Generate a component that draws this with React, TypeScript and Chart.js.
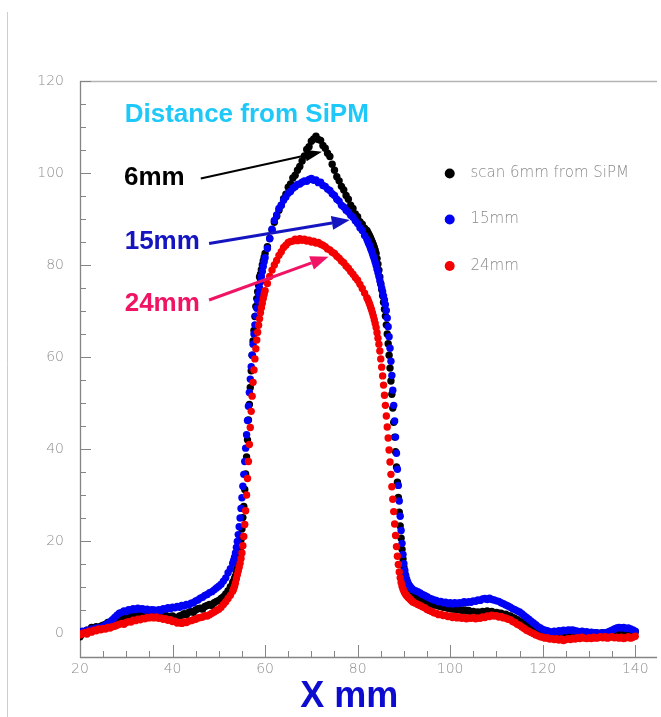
import React, { useEffect, useRef } from "react";
import { Chart, registerables } from "chart.js";

Chart.register(...registerables);

// x sampling of the scan: each segment starts at SEG_START[i] and advances by SEG_STEP[i] (mm)
const SEG_START = [20, 53.2, 60.5, 82.2, 92.5];
const SEG_STEP = [0.5, 0.2, 0.5, 0.2, 0.5];

const X_TICKS = [20, 40, 60, 80, 100, 120, 140];
const Y_TICKS = [0, 20, 40, 60, 80, 100, 120];

const SERIES_LABELS = ["scan 6mm from SiPM", "15mm", "24mm"];

// ---- 6 mm from SiPM (black)
const BLACK_A = [-0.8, -0.2, 0.3, 0.6, 0.4, 1.2, 1.0, 1.4, 1.1, 1.5, 1.7, 1.9, 2.3, 2.1, 2.6, 2.9, 2.7, 3.1, 3.3, 3.0, 3.4, 3.7, 3.4, 3.8, 3.9, 3.6, 3.9, 4.2, 3.9, 4.1, 4.3, 3.9, 4.1, 4.0, 3.8, 4.1, 3.7, 3.9, 3.6, 3.3, 3.7, 3.4, 3.3, 3.7, 3.9, 4.2, 4.0, 4.5, 4.7, 4.5, 5.0, 5.3, 5.4, 5.2, 5.8, 6.0, 6.2, 6.0, 6.6, 6.9, 7.1, 7.5, 7.9, 8.5, 9.2, 10.1, 11.0];
const BLACK_B = [11.3, 11.9, 12.4, 13.2, 14.1, 15.3, 16.6, 18.2, 20.3, 22.6, 25.1, 27.5, 31.2, 34.6, 38.3, 42.0, 46.3, 49.7, 53.4, 57.0, 60.4, 63.5, 65.8, 68.8, 71.0, 72.7, 74.2, 75.6, 77.4, 78.0, 79.0, 80.0, 80.9, 81.7, 82.5];
const BLACK_C = [84.0, 85.8, 87.6, 89.3, 90.6, 91.9, 93.0, 94.4, 95.4, 96.9, 97.6, 98.9, 99.5, 100.6, 101.4, 102.6, 103.7, 105.1, 105.7, 106.9, 107.4, 108.0, 107.3, 107.1, 106.0, 105.4, 104.3, 103.6, 101.9, 100.6, 99.2, 98.3, 97.1, 96.3, 95.1, 94.3, 93.0, 92.3, 91.1, 90.5, 89.4, 88.9, 88.0, 87.5];
const BLACK_D = [87.1, 86.7, 86.3, 85.9, 85.4, 84.9, 84.4, 83.9, 83.2, 82.5, 81.4, 80.2, 78.9, 77.4, 76.0, 74.7, 73.3, 71.9, 70.4, 68.9, 67.0, 65.0, 62.9, 60.4, 57.6, 54.8, 51.9, 48.9, 45.8, 42.6, 39.4, 36.1, 32.8, 29.5, 26.3, 23.3, 20.6, 18.2, 16.1, 14.3, 12.9, 11.8, 10.9, 10.2, 9.7, 9.3, 8.9, 8.6, 8.4, 8.2];
const BLACK_E = [7.9, 7.5, 7.4, 7.0, 6.9, 6.6, 6.4, 6.3, 6.1, 6.1, 5.9, 5.8, 5.6, 5.6, 5.4, 5.4, 5.2, 5.3, 5.0, 5.1, 4.9, 5.0, 4.8, 4.9, 4.6, 4.7, 4.5, 4.6, 4.4, 4.7, 4.6, 4.8, 4.6, 4.7, 4.4, 4.5, 4.3, 4.3, 4.0, 4.1, 3.8, 3.7, 3.4, 3.2, 2.9, 2.6, 2.3, 2.0, 1.7, 1.4, 1.1, 0.9, 0.6, 0.4, 0.1, 0.0, -0.2, -0.1, -0.4, -0.3, -0.5, -0.4, -0.6, -0.5, -0.3, -0.4, -0.2, -0.3, -0.1, -0.3, -0.2, -0.2, 0.0, -0.2, -0.1, -0.2, 0.0, -0.1, 0.1, -0.1, 0.0, 0.1, 0.0, 0.1, 0.2, 0.1, 0.3, 0.2, 0.4, 0.3, 0.5, 0.4, 0.3, 0.5, 0.4, 0.3];

// ---- 15 mm (blue)
const BLUE_A = [0.1, 0.4, 0.2, 0.6, 0.5, 0.9, 0.8, 1.1, 1.0, 1.3, 1.4, 1.8, 2.1, 2.5, 2.9, 3.4, 3.9, 4.3, 4.5, 4.8, 4.7, 5.1, 5.0, 5.3, 5.1, 5.4, 5.2, 5.3, 5.0, 5.2, 4.9, 5.1, 5.0, 4.8, 5.1, 4.9, 5.3, 5.2, 5.5, 5.3, 5.6, 5.5, 5.8, 5.6, 6.0, 5.9, 6.2, 6.1, 6.5, 6.6, 7.0, 7.2, 7.6, 7.8, 8.2, 8.4, 8.8, 9.0, 9.4, 9.8, 10.2, 10.6, 11.3, 12.0, 13.1, 14.0, 15.2];
const BLUE_B = [15.8, 16.5, 17.4, 18.6, 19.9, 21.4, 23.1, 25.0, 27.1, 29.4, 31.9, 34.5, 37.3, 40.2, 43.1, 46.2, 49.3, 52.3, 55.2, 57.9, 60.4, 62.8, 65.0, 67.0, 68.9, 70.6, 72.2, 73.7, 75.0, 76.3, 77.5, 78.6, 79.7, 80.7, 81.6];
const BLUE_C = [83.6, 85.7, 87.8, 89.7, 90.9, 92.3, 93.0, 94.1, 94.8, 95.6, 96.0, 96.7, 97.0, 97.5, 97.6, 98.0, 98.3, 98.2, 98.6, 98.8, 98.4, 98.5, 97.9, 98.0, 97.3, 97.1, 96.5, 96.2, 95.5, 95.1, 94.3, 93.9, 93.0, 92.6, 91.9, 91.5, 90.8, 90.4, 89.6, 89.0, 88.1, 87.5, 86.4, 85.6];
const BLUE_D = [85.1, 84.6, 84.2, 83.6, 83.1, 82.5, 81.9, 81.3, 80.6, 79.9, 79.1, 78.3, 77.5, 76.6, 75.8, 75.0, 74.2, 73.3, 72.4, 71.4, 70.1, 68.5, 66.6, 64.4, 61.9, 59.1, 56.0, 52.8, 49.5, 46.1, 42.6, 39.1, 35.6, 32.1, 28.7, 25.4, 22.3, 19.5, 17.1, 15.1, 13.6, 12.5, 11.7, 11.1, 10.6, 10.3, 10.0, 9.8, 9.6, 9.4];
const BLUE_E = [9.2, 9.0, 8.7, 8.4, 8.2, 7.9, 7.6, 7.4, 7.2, 7.1, 6.8, 6.9, 6.6, 6.7, 6.4, 6.6, 6.3, 6.6, 6.4, 6.6, 6.5, 6.8, 6.6, 6.8, 6.7, 7.0, 6.9, 7.2, 7.1, 7.4, 7.5, 7.3, 7.6, 7.3, 7.2, 7.0, 6.9, 6.6, 6.4, 6.1, 5.9, 5.6, 5.3, 5.1, 4.8, 4.6, 4.2, 3.8, 3.4, 3.0, 2.6, 2.2, 1.8, 1.4, 1.1, 0.8, 0.6, 0.5, 0.3, 0.2, 0.4, 0.3, 0.5, 0.4, 0.6, 0.5, 0.7, 0.6, 0.7, 0.5, 0.4, 0.3, 0.4, 0.2, 0.3, 0.1, 0.2, 0.0, 0.1, 0.0, -0.1, 0.1, 0.0, 0.2, 0.4, 0.6, 0.9, 1.1, 1.2, 1.1, 1.2, 1.0, 1.1, 0.9, 0.7, 0.4];

// ---- 24 mm (red)
const RED_A = [-0.4, -0.1, 0.1, -0.2, 0.4, 0.2, 0.6, 0.5, 0.9, 0.7, 1.0, 0.9, 1.2, 1.1, 1.4, 1.5, 1.7, 1.9, 2.1, 1.9, 2.3, 2.5, 2.4, 2.8, 2.7, 3.0, 2.9, 3.2, 3.1, 3.4, 3.3, 3.5, 3.3, 3.5, 3.2, 3.3, 3.0, 3.1, 2.8, 2.9, 2.5, 2.6, 2.2, 2.3, 2.1, 2.4, 2.3, 2.6, 2.7, 2.9, 3.0, 3.3, 3.4, 3.5, 3.8, 3.7, 4.0, 4.3, 4.6, 4.9, 5.2, 5.6, 6.2, 6.8, 7.5, 8.2, 9.1];
const RED_B = [9.6, 10.2, 10.9, 11.8, 12.7, 13.5, 14.3, 15.2, 16.2, 17.4, 19.0, 21.0, 23.6, 26.6, 30.0, 33.6, 37.3, 41.0, 44.7, 48.2, 51.5, 54.5, 57.2, 59.6, 61.8, 63.7, 65.4, 66.9, 68.3, 69.6, 70.7, 71.7, 72.7, 73.6, 74.4];
const RED_C = [76.0, 77.5, 78.9, 80.0, 81.0, 82.1, 82.9, 83.8, 84.3, 84.9, 85.1, 85.2, 85.6, 85.3, 85.7, 85.4, 85.6, 85.2, 85.4, 85.0, 85.2, 84.8, 84.9, 84.5, 84.3, 84.0, 83.5, 83.3, 82.8, 82.5, 81.9, 81.5, 80.9, 80.5, 79.8, 79.3, 78.6, 78.0, 77.3, 76.7, 75.8, 74.9, 73.9, 72.9];
const RED_D = [72.5, 72.0, 71.5, 70.9, 70.3, 69.6, 68.9, 68.1, 67.3, 66.4, 65.3, 64.1, 62.8, 61.3, 59.6, 57.8, 55.9, 53.9, 51.7, 49.5, 47.2, 44.8, 42.4, 39.8, 37.2, 34.5, 31.8, 29.1, 26.4, 23.7, 21.2, 18.8, 16.7, 14.9, 13.3, 12.0, 11.0, 10.2, 9.6, 9.1, 8.7, 8.4, 8.1, 7.9, 7.7, 7.5, 7.3, 7.1, 6.9, 6.7];
const RED_E = [6.5, 6.2, 6.0, 5.7, 5.5, 5.1, 4.9, 4.7, 4.4, 4.3, 4.0, 4.1, 3.8, 3.9, 3.6, 3.7, 3.4, 3.6, 3.3, 3.5, 3.2, 3.4, 3.1, 3.3, 3.2, 3.4, 3.1, 3.3, 3.2, 3.5, 3.4, 3.7, 3.6, 3.9, 3.7, 3.8, 3.5, 3.6, 3.3, 3.3, 3.0, 2.9, 2.5, 2.3, 1.9, 1.7, 1.3, 1.0, 0.6, 0.4, 0.1, -0.1, -0.4, -0.6, -0.8, -0.9, -1.1, -1.0, -1.3, -1.2, -1.4, -1.2, -1.5, -1.3, -1.6, -1.4, -1.2, -1.4, -1.1, -1.3, -1.0, -1.2, -0.9, -1.1, -1.2, -1.0, -1.2, -0.9, -1.1, -1.0, -0.8, -1.0, -0.8, -1.1, -0.9, -0.8, -1.0, -0.9, -1.1, -0.9, -1.2, -1.0, -0.8, -1.1, -0.9, -0.7];

function toPoints(segments: number[][]) {
  const pts: { x: number; y: number }[] = [];
  segments.forEach((ys, s) => {
    ys.forEach((y, i) => {
      pts.push({ x: Math.round((SEG_START[s] + i * SEG_STEP[s]) * 100) / 100, y });
    });
  });
  return pts;
}

const COLORS = { black: "#000000", blue: "#0000f5", red: "#f50000" };

function drawArrow(ctx: CanvasRenderingContext2D, x1: number, y1: number, x2: number, y2: number, color: string, width: number, headLen: number, headHalf: number) {
  const ang = Math.atan2(y2 - y1, x2 - x1);
  const bx = x2 - headLen * Math.cos(ang);
  const by = y2 - headLen * Math.sin(ang);
  ctx.save();
  ctx.strokeStyle = color;
  ctx.fillStyle = color;
  ctx.lineWidth = width;
  ctx.beginPath();
  ctx.moveTo(x1, y1);
  ctx.lineTo(bx, by);
  ctx.stroke();
  ctx.beginPath();
  ctx.moveTo(x2, y2);
  ctx.lineTo(bx + headHalf * Math.sin(ang), by - headHalf * Math.cos(ang));
  ctx.lineTo(bx - headHalf * Math.sin(ang), by + headHalf * Math.cos(ang));
  ctx.closePath();
  ctx.fill();
  ctx.restore();
}

const axesPlugin = {
  id: "rootAxes",
  beforeDatasetsDraw(chart: any) {
    const { ctx, chartArea: a, scales } = chart;
    const xs = scales.x;
    const ys = scales.y;
    ctx.save();
    // page edge line
    ctx.strokeStyle = "#cdcdcd";
    ctx.lineWidth = 1;
    ctx.beginPath();
    ctx.moveTo(7.5, 12);
    ctx.lineTo(7.5, 717);
    ctx.stroke();
    // top frame
    ctx.strokeStyle = "#b4b4b4";
    ctx.lineWidth = 1.5;
    ctx.beginPath();
    ctx.moveTo(a.left, a.top + 0.5);
    ctx.lineTo(a.right, a.top + 0.5);
    ctx.stroke();
    // axes
    ctx.strokeStyle = "#858585";
    ctx.lineWidth = 1.3;
    ctx.beginPath();
    ctx.moveTo(a.left + 0.5, a.top);
    ctx.lineTo(a.left + 0.5, a.bottom + 0.5);
    ctx.lineTo(a.right, a.bottom + 0.5);
    ctx.stroke();
    // y ticks (major + 3 minor)
    ctx.lineWidth = 1;
    ctx.beginPath();
    for (let i = 0; i < Y_TICKS.length; i++) {
      const v = Y_TICKS[i];
      const py = Math.round(ys.getPixelForValue(v)) + 0.5;
      ctx.moveTo(a.left, py);
      ctx.lineTo(a.left + 11, py);
      if (i < Y_TICKS.length - 1) {
        const d = (Y_TICKS[i + 1] - v) / 4;
        for (let k = 1; k < 4; k++) {
          const pm = Math.round(ys.getPixelForValue(v + k * d)) + 0.5;
          ctx.moveTo(a.left, pm);
          ctx.lineTo(a.left + 6, pm);
        }
      }
    }
    // x ticks
    for (let i = 0; i < X_TICKS.length; i++) {
      const v = X_TICKS[i];
      const px = Math.round(xs.getPixelForValue(v)) + 0.5;
      ctx.moveTo(px, a.bottom);
      ctx.lineTo(px, a.bottom - 12);
      if (i < X_TICKS.length - 1) {
        const d = (X_TICKS[i + 1] - v) / 4;
        for (let k = 1; k < 4; k++) {
          const pm = Math.round(xs.getPixelForValue(v + k * d)) + 0.5;
          ctx.moveTo(pm, a.bottom);
          ctx.lineTo(pm, a.bottom - 6);
        }
      }
    }
    ctx.stroke();
    // tick labels
    ctx.fillStyle = "#8d8d8d";
    ctx.font = '200 14px "DejaVu Sans"';
    ctx.textAlign = "right";
    ctx.textBaseline = "middle";
    Y_TICKS.forEach((v) => ctx.fillText(String(v), a.left - 16, ys.getPixelForValue(v)));
    ctx.textAlign = "center";
    X_TICKS.forEach((v) => ctx.fillText(String(v), xs.getPixelForValue(v), a.bottom + 12));
    ctx.restore();
  },
};

const annotationPlugin = {
  id: "rootNotes",
  afterDatasetsDraw(chart: any) {
    const { ctx, chartArea: a, scales } = chart;
    const X = (v: number) => scales.x.getPixelForValue(v);
    const Y = (v: number) => scales.y.getPixelForValue(v);
    ctx.save();
    ctx.textBaseline = "middle";
    ctx.textAlign = "left";
    ctx.font = 'bold 26px "Liberation Sans", Arial, sans-serif';
    ctx.fillStyle = "#1ec8f8";
    ctx.fillText("Distance from SiPM", X(29.66), Y(112.6));
    ctx.fillStyle = "#000000";
    ctx.fillText("6mm", X(29.5), Y(99.0));
    ctx.fillStyle = "#1414c0";
    ctx.fillText("15mm", X(29.66), Y(85.0));
    ctx.fillStyle = "#f01464";
    ctx.fillText("24mm", X(29.66), Y(71.6));

    drawArrow(ctx, X(46.1), Y(98.8), X(72.3), Y(104.6), "#000000", 2, 17, 6);
    drawArrow(ctx, X(47.9), Y(84.7), X(78.3), Y(89.8), "#1414c0", 3, 18, 7);
    drawArrow(ctx, X(47.9), Y(72.4), X(73.7), Y(81.8), "#f01464", 3, 18, 7);

    // legend
    const legendColors = [COLORS.black, COLORS.blue, COLORS.red];
    const legendY = [99.9, 89.9, 79.8];
    ctx.font = '200 15px "DejaVu Sans"';
    SERIES_LABELS.forEach((lab, i) => {
      ctx.fillStyle = legendColors[i];
      ctx.beginPath();
      ctx.arc(X(99.9), Y(legendY[i]), 5, 0, Math.PI * 2);
      ctx.fill();
      ctx.fillStyle = "#8a8a8a";
      ctx.fillText(lab, X(104.4), Y(legendY[i]));
    });

    // axis title
    ctx.font = 'bold 36px "Liberation Sans", Arial, sans-serif';
    ctx.fillStyle = "#0c0cd0";
    ctx.textAlign = "center";
    ctx.fillText("X mm", X(78.2), a.bottom + 40);
    ctx.restore();
  },
};

export default function App() {
  const ref = useRef<HTMLCanvasElement | null>(null);
  useEffect(() => {
    if (!ref.current) return;
    const chart = new Chart(ref.current, {
      type: "scatter",
      data: {
        datasets: [
          {
            label: SERIES_LABELS[0],
            data: toPoints([BLACK_A, BLACK_B, BLACK_C, BLACK_D, BLACK_E]),
            backgroundColor: COLORS.black,
            borderColor: COLORS.black,
            borderWidth: 0,
            pointRadius: 3.7,
            order: 3,
          },
          {
            label: SERIES_LABELS[1],
            data: toPoints([BLUE_A, BLUE_B, BLUE_C, BLUE_D, BLUE_E]),
            backgroundColor: COLORS.blue,
            borderColor: COLORS.blue,
            borderWidth: 0,
            pointRadius: 3.7,
            order: 2,
          },
          {
            label: SERIES_LABELS[2],
            data: toPoints([RED_A, RED_B, RED_C, RED_D, RED_E]),
            backgroundColor: COLORS.red,
            borderColor: COLORS.red,
            borderWidth: 0,
            pointRadius: 3.7,
            order: 1,
          },
        ],
      },
      options: {
        responsive: false,
        animation: false,
        devicePixelRatio: 1,
        events: [],
        layout: { padding: { left: 80, top: 81, right: 0, bottom: 60 } },
        scales: {
          x: { type: "linear", min: 20, max: 144.7, display: false },
          y: { type: "linear", min: -5.2, max: 120, display: false },
        },
        plugins: { legend: { display: false }, tooltip: { enabled: false } },
      },
      plugins: [axesPlugin, annotationPlugin],
    });
    return () => chart.destroy();
  }, []);
  return (
    <div style={{ position: "fixed", left: 0, top: 0, width: 661, height: 717, background: "#ffffff" }}>
      <canvas ref={ref} width={661} height={717} style={{ display: "block", width: 661, height: 717 }} />
    </div>
  );
}
